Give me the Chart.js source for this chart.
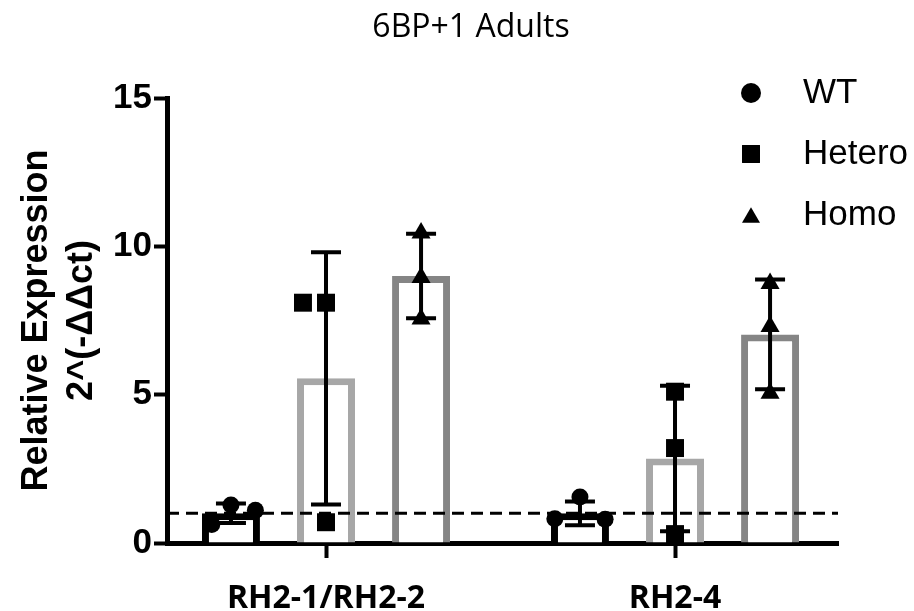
<!DOCTYPE html>
<html>
<head>
<meta charset="utf-8">
<script src="https://cdn.jsdelivr.net/npm/chart.js@4/dist/chart.umd.min.js"></script>
<style>
html, body { margin: 0; padding: 0; background: #fff; }
#wrap { width: 914px; height: 611px; position: relative; }
</style>
</head>
<body>
<div id="wrap"><canvas id="c"></canvas></div>
<script>
// ---- data ----
const categories = ['RH2-1/RH2-2', 'RH2-4'];
const seriesNames = ['WT', 'Hetero', 'Homo'];
const chartTitle = '6BP+1 Adults';

const wtMean = [1.0, 1.0];
const wtSD = [0.33, 0.40];
const wtPoints = [[0.62, 1.28, 1.10], [0.82, 1.55, 0.80]];
const wtJitter = [[-0.055, 0, 0.07], [-0.072, 0, 0.072]];

const hetMean = [5.55, 2.85];
const hetSD = [4.25, 2.45];
const hetPoints = [[8.1, 8.1, 0.7], [5.1, 3.2, 0.3]];
const hetJitter = [[-0.066, 0, 0], [0, 0, 0]];

const homMean = [9.0, 7.03];
const homSD = [1.42, 1.85];
const homPoints = [[10.45, 8.95, 7.55], [8.75, 7.3, 5.05]];
const homJitter = [[0, 0, 0], [0, 0, 0]];

const yTicks = [0, 5, 10, 15];
const referenceLevel = 1;

// ---- styling ----
const CAT_PCT = 0.817;
const BAR_PCT = 0.61;
const barColors = ['#000000', '#a7a7a7', '#858585'];
const pointStyles = ['circle', 'rect', 'triangle'];
const pointRadii = [8.5, 12.7, 11];
const legendRadii = [10, 12.7, 10.4];
const legendRows = [93, 154, 215];
const legendShift = [0, 0, 2.6];

const series = [
  { mean: wtMean, sd: wtSD, pts: wtPoints, jit: wtJitter },
  { mean: hetMean, sd: hetSD, pts: hetPoints, jit: hetJitter },
  { mean: homMean, sd: homSD, pts: homPoints, jit: homJitter }
];

const barDatasets = series.map((s, si) => ({
  type: 'bar',
  label: seriesNames[si],
  data: categories.map((c, i) => ({ x: i, y: s.mean[i] })),
  backgroundColor: '#ffffff',
  borderColor: barColors[si],
  borderWidth: 7,
  borderSkipped: 'start',
  categoryPercentage: CAT_PCT,
  barPercentage: BAR_PCT,
  order: 2
}));

const pointDatasets = series.map((s, si) => {
  const data = [];
  categories.forEach((c, i) => {
    s.pts[i].forEach((v, k) => {
      data.push({ x: i + (si - 1) * CAT_PCT / 3 + s.jit[i][k], y: v });
    });
  });
  return {
    type: 'scatter',
    label: seriesNames[si] + ' points',
    data: data,
    showLine: false,
    pointStyle: pointStyles[si],
    pointRadius: pointRadii[si],
    pointBackgroundColor: '#000',
    pointBorderWidth: 0,
    order: 1
  };
});

const overlayPlugin = {
  id: 'overlay',
  afterDatasetsDraw(chart) {
    const ctx = chart.ctx;
    const yS = chart.scales.y;
    const area = chart.chartArea;
    ctx.save();
    // reference line
    ctx.strokeStyle = '#000';
    ctx.lineWidth = 3;
    ctx.setLineDash([12, 7]);
    const yr = yS.getPixelForValue(referenceLevel);
    ctx.beginPath();
    ctx.moveTo(area.left, yr);
    ctx.lineTo(area.right, yr);
    ctx.stroke();
    ctx.setLineDash([]);
    // error bars (mean ± SD)
    ctx.lineWidth = 4;
    series.forEach((s, si) => {
      const meta = chart.getDatasetMeta(si);
      meta.data.forEach((bar, i) => {
        const x = bar.x;
        const hi = yS.getPixelForValue(s.mean[i] + s.sd[i]);
        const lo = yS.getPixelForValue(s.mean[i] - s.sd[i]);
        ctx.beginPath();
        ctx.moveTo(x, hi); ctx.lineTo(x, lo);
        ctx.moveTo(x - 15, hi); ctx.lineTo(x + 15, hi);
        ctx.moveTo(x - 15, lo); ctx.lineTo(x + 15, lo);
        ctx.stroke();
      });
    });
    ctx.restore();
  },
  afterDraw(chart) {
    const ctx = chart.ctx;
    ctx.save();
    ctx.fillStyle = '#000';
    // title
    ctx.font = '32px "Open Sans", sans-serif';
    ctx.textAlign = 'center';
    ctx.textBaseline = 'middle';
    ctx.fillText(chartTitle, 471, 28);
    // legend
    seriesNames.forEach((name, k) => {
      const y = legendRows[k];
      Chart.helpers.drawPoint(ctx, { pointStyle: pointStyles[k], radius: legendRadii[k], borderWidth: 0, rotation: 0 }, 751, y + legendShift[k]);
      ctx.font = '35px "Liberation Sans", Arial, sans-serif';
      ctx.textAlign = 'left';
      ctx.textBaseline = 'middle';
      ctx.fillText(name, 803, y);
    });
    ctx.restore();
  }
};

Chart.defaults.color = '#000';

new Chart(document.getElementById('c'), {
  type: 'bar',
  data: { datasets: [...barDatasets, ...pointDatasets] },
  plugins: [overlayPlugin],
  options: {
    responsive: true,
    maintainAspectRatio: false,
    animation: false,
    events: [],
    layout: { padding: { left: 0, right: 76, top: 98, bottom: 0 } },
    plugins: {
      legend: { display: false },
      tooltip: { enabled: false },
      title: { display: false }
    },
    scales: {
      x: {
        type: 'linear',
        offset: false,
        min: -0.4556,
        max: 1.467,
        afterBuildTicks: (scale) => { scale.ticks = categories.map((c, i) => ({ value: i })); },
        afterFit: (scale) => { scale.height = 68; },
        ticks: {
          autoSkip: false,
          maxRotation: 0,
          padding: 22,
          color: '#000',
          font: { family: '"Open Sans", sans-serif', size: 32, weight: 'bold', lineHeight: 1.2 },
          callback: (v) => (categories[v] !== undefined ? categories[v] : '')
        },
        grid: { display: true, offset: false, drawOnChartArea: false, drawTicks: true, tickLength: 15, tickWidth: 4, tickColor: '#000', color: '#000' },
        border: { display: true, color: '#000', width: 5 }
      },
      y: {
        min: 0,
        max: 15,
        afterBuildTicks: (scale) => { scale.ticks = yTicks.map(v => ({ value: v })); },
        afterFit: (scale) => { scale.width = 167; },
        ticks: {
          padding: 2,
          color: '#000',
          font: { family: '"Liberation Sans", Arial, sans-serif', size: 35, weight: 'bold' }
        },
        grid: { display: true, drawOnChartArea: false, drawTicks: true, tickLength: 13, tickWidth: 4, tickColor: '#000', color: '#000' },
        border: { display: true, color: '#000', width: 5 },
        title: {
          display: true,
          text: ['Relative Expression', '2^(-\u0394\u0394ct)'],
          color: '#000',
          font: { family: '"Liberation Sans", Arial, sans-serif', size: 36, weight: 'bold', lineHeight: 1.25 },
          padding: { top: 14.5, bottom: 4 }
        }
      }
    }
  }
});
</script>
</body>
</html>
